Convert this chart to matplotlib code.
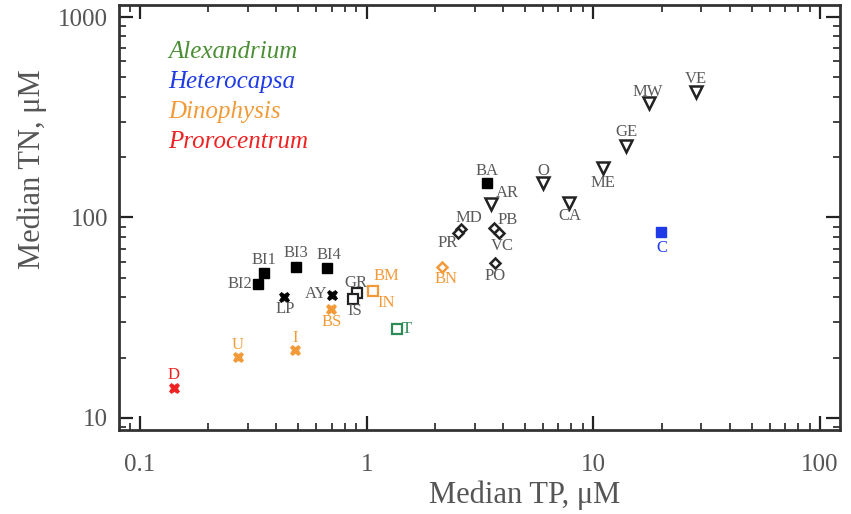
import matplotlib
matplotlib.use('Agg')
import matplotlib.pyplot as plt
from matplotlib.ticker import LogLocator, NullFormatter, FixedLocator, FixedFormatter

plt.rcParams['font.family'] = ['Liberation Serif', 'DejaVu Serif']

# Data: median TP and TN (uM) per site, grouped by marker type
sq_sites = ['BI1', 'BI2', 'BI3', 'BI4', 'BA']
sq_tp = [0.352, 0.331, 0.487, 0.667, 3.41]
sq_tn = [52.8, 46.5, 56.6, 56.0, 148.6]

bow_sites = ['LP', 'AY']
bow_tp = [0.431, 0.701]
bow_tn = [40.1, 41.1]

open_sq_sites = ['GR', 'IS']
open_sq_tp = [0.904, 0.868]
open_sq_tn = [42.0, 39.2]

dia_sites = ['MD', 'PR', 'PB', 'VC', 'PO']
dia_tp = [2.62, 2.52, 3.66, 3.85, 3.70]
dia_tn = [87.6, 83.6, 88.7, 83.6, 59.3]

tri_sites = ['AR', 'O', 'ME', 'CA', 'GE', 'MW', 'VE']
tri_tp = [3.55, 6.02, 11.07, 7.84, 13.97, 17.65, 28.4]
tri_tn = [116.6, 148.6, 176.6, 118.0, 227.0, 372.0, 423.0]

# bloom taxa sites
dino_bow_sites = ['U', 'I', 'BS']
dino_bow_tp = [0.270, 0.482, 0.694]
dino_bow_tn = [20.1, 21.8, 35.0]

dino_sq_sites = ['BM']
dino_sq_tp = [1.07]
dino_sq_tn = [43.0]

dino_dia_sites = ['BN']
dino_dia_tp = [2.16]
dino_dia_tn = [56.6]

alex_sites = ['T']
alex_tp = [1.36]
alex_tn = [27.8]

hetero_sites = ['C']
hetero_tp = [19.9]
hetero_tn = [84.8]

proro_sites = ['D']
proro_tp = [0.141]
proro_tn = [14.1]

taxa = ['Alexandrium', 'Heterocapsa', 'Dinophysis', 'Prorocentrum']

GREEN = '#4a8f35'
BLUE = '#1f3be8'
ORANGE = '#f39a38'
RED = '#ee2222'
GREY = '#5a5a5a'

# label offsets in pixels (dx, dy), dy up
offsets = {
    'BI1': (0, 13, 'center'), 'BI2': (-6, 0, 'right'), 'BI3': (0, 14, 'center'),
    'BI4': (2, 13, 'center'), 'BA': (0, 12, 'center'), 'LP': (1, -12, 'center'),
    'AY': (-4, 1, 'right'), 'GR': (-1, 10, 'center'), 'IS': (2, -12, 'center'),
    'MD': (7, 11, 'center'), 'PR': (-10, -10, 'center'), 'PB': (13, 8, 'center'),
    'VC': (3, -13, 'center'), 'PO': (0, -13, 'center'), 'AR': (16, 11, 'center'),
    'O': (0, 12, 'center'), 'ME': (0, -15, 'center'), 'CA': (0, -13, 'center'),
    'GE': (0, 14, 'center'), 'MW': (-2, 11, 'center'), 'VE': (0, 13, 'center'),
    'U': (0, 12, 'center'), 'I': (0, 12, 'center'), 'BS': (1, -13, 'center'),
    'BM': (13, 15, 'center'), 'BN': (4, -12, 'center'), 'T': (5, 0, 'left'),
    'C': (1, -16, 'center'), 'D': (0, 13, 'center'),
}
extra_labels = [('IN', 1.07, 43.0, 13, -12, ORANGE)]

fig = plt.figure(figsize=(8.51, 5.14), dpi=100)
ax = fig.add_axes([119 / 851, 84 / 514, 721 / 851, 425 / 514])

def plot_group(tp, tn, sites, marker, color, face, size, mew, lcolor):
    ax.plot(tp, tn, linestyle='none', marker=marker, markersize=size,
            markerfacecolor=face, markeredgecolor=color, markeredgewidth=mew, zorder=3)
    for s, x, y in zip(sites, tp, tn):
        dx, dy, ha = offsets[s]
        ax.annotate(s, (x, y), xytext=(dx, dy), textcoords='offset pixels',
                    ha=ha, va='center', fontsize=12, color=lcolor)

plot_group(sq_tp, sq_tn, sq_sites, 's', 'black', 'black', 7.5, 1, GREY)
plot_group(bow_tp, bow_tn, bow_sites, 'X', 'black', 'black', 7.5, 0.5, GREY)
plot_group(open_sq_tp, open_sq_tn, open_sq_sites, 's', '#222222', 'white', 6.5, 1.6, GREY)
plot_group(dia_tp, dia_tn, dia_sites, 'D', '#222222', 'white', 5.5, 1.8, GREY)
plot_group(tri_tp, tri_tn, tri_sites, 'v', '#222222', 'white', 8, 1.8, GREY)
plot_group(dino_bow_tp, dino_bow_tn, dino_bow_sites, 'X', ORANGE, ORANGE, 7.5, 0.5, ORANGE)
plot_group(dino_sq_tp, dino_sq_tn, dino_sq_sites, 's', ORANGE, 'white', 6.5, 1.6, ORANGE)
plot_group(dino_dia_tp, dino_dia_tn, dino_dia_sites, 'D', ORANGE, 'white', 5.5, 1.8, ORANGE)
plot_group(alex_tp, alex_tn, alex_sites, 's', '#2e8b57', 'white', 6.5, 1.6, '#2e8b57')
plot_group(hetero_tp, hetero_tn, hetero_sites, 's', BLUE, BLUE, 7.5, 1, BLUE)
plot_group(proro_tp, proro_tn, proro_sites, 'X', RED, RED, 7.5, 0.5, RED)

for s, x, y, dx, dy, c in extra_labels:
    ax.annotate(s, (x, y), xytext=(dx, dy), textcoords='offset pixels',
                ha='center', va='center', fontsize=12, color=c)

ax.set_xscale('log')
ax.set_yscale('log')
ax.set_xlim(0.0808, 122.5)
ax.set_ylim(8.71, 1148)

ax.xaxis.set_major_locator(FixedLocator([0.1, 1, 10, 100]))
ax.xaxis.set_major_formatter(FixedFormatter(['0.1', '1', '10', '100']))
ax.yaxis.set_major_locator(FixedLocator([10, 100, 1000]))
ax.yaxis.set_major_formatter(FixedFormatter(['10', '100', '1000']))
ax.xaxis.set_minor_locator(LogLocator(base=10, subs=range(2, 10)))
ax.yaxis.set_minor_locator(LogLocator(base=10, subs=range(2, 10)))
ax.xaxis.set_minor_formatter(NullFormatter())
ax.yaxis.set_minor_formatter(NullFormatter())

ax.tick_params(which='both', direction='in', top=True, right=True, colors='#222222',
               labelcolor='#555555', labelsize=18)
ax.tick_params(which='major', length=10, width=1.6)
ax.tick_params(which='minor', length=5, width=1.2)
ax.tick_params(axis='x', which='major', pad=17)
ax.tick_params(axis='y', which='major', pad=8)
for sp in ax.spines.values():
    sp.set_linewidth(2)
    sp.set_color('#333333')

fig.text(525 / 851, 1 - 495 / 514, 'Median TP, μM', ha='center', va='center',
         fontsize=22, color='#555555')
fig.text(32 / 851, 1 - 169 / 514, 'Median TN, μM', ha='center', va='center',
         rotation=90, fontsize=22, color='#555555')

taxa_colors = [GREEN, BLUE, ORANGE, RED]
for i, (name, c) in enumerate(zip(taxa, taxa_colors)):
    fig.text(168 / 851, 1 - (52 + 30 * i) / 514, name, ha='left', va='center',
             fontsize=18, style='italic', color=c)

fig.savefig('out.png', dpi=100)
